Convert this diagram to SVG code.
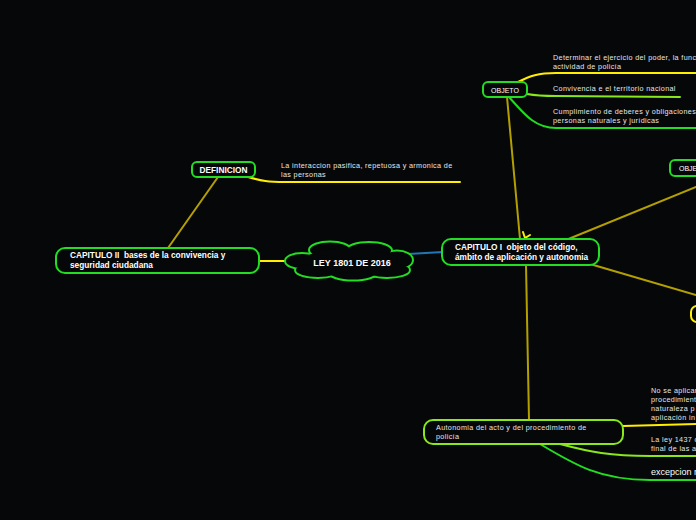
<svg xmlns="http://www.w3.org/2000/svg" width="696" height="520" viewBox="0 0 696 520">
<style>
.bg{fill:#060709}
.box{fill:#060709;stroke:#22dd22;stroke-width:2}
.lime{stroke:#88e81c}
.yel{stroke:#ffee00}
.t{font-family:"Liberation Sans",Arial,sans-serif;fill:#ffffff;white-space:pre}
.b{font-weight:bold;font-size:8.3px}
.s{font-size:7.2px;fill:#e6e6e6;letter-spacing:0.36px}
.c{fill:none;stroke-width:2;stroke-linecap:round}
.ol{stroke:#b3a000}
.gr{stroke:#22dd22}
</style>
<rect class="bg" x="0" y="0" width="696" height="520"/>
<g id="connectors">
  <line class="c ol" x1="218" y1="177" x2="168" y2="248"/>
  <line class="c yel" x1="259" y1="261" x2="290" y2="261"/>
  <line class="c" stroke="#1f78b4" x1="408" y1="254" x2="443" y2="252"/>
  <line class="c ol" x1="507" y1="97" x2="520" y2="239"/>
  <polyline class="c yel" stroke-width="1.6" points="523,232 525,238 530,235"/>
  <line class="c ol" x1="566" y1="240" x2="696" y2="187"/>
  <line class="c ol" x1="590" y1="264" x2="696" y2="295"/>
  <path class="c ol" d="M526,265 L529,420"/>
  <path class="c yel" d="M248,177 C262,181 268,182 285,182 L460,182"/>
  <path class="c yel" d="M518,82 C530,76 538,73 556,73 L696,73"/>
  <path class="c lime" d="M527,94 C538,96 545,96 556,96 L680,97"/>
  <path class="c gr" d="M509,97 C525,115 535,128 556,128 L696,128"/>
  <path class="c yel" d="M623,426 L696,424"/>
  <path class="c lime" d="M560,444 C590,452 610,456 650,456 L696,456"/>
  <path class="c gr" d="M540,444 C575,465 600,480 650,480 L696,480"/>
</g>
<g id="capitulo2">
  <rect class="box" x="56" y="248" width="203" height="25" rx="9"/>
  <text class="t b" x="70" y="258">CAPITULO II  bases de la convivencia y</text>
  <text class="t b" x="70" y="268">seguridad ciudadana</text>
</g>
<g id="definicion">
  <rect class="box" x="192" y="162" width="63" height="15" rx="5"/>
  <text class="t b" x="223.5" y="172.5" text-anchor="middle" font-size="7.5">DEFINICION</text>
</g>
<g id="definicion-text">
  <text class="t s" x="281" y="168">La interaccion pasifica, repetuosa y armonica de</text>
  <text class="t s" x="281" y="177">las personas</text>
</g>
<g id="ley">
  <g fill="none" stroke="#22dd22" stroke-width="4">
    <ellipse cx="330" cy="250" rx="20" ry="7.5"/>
    <ellipse cx="369" cy="250.5" rx="22" ry="7.5"/>
    <ellipse cx="302" cy="261" rx="16" ry="7"/>
    <ellipse cx="397" cy="260" rx="15" ry="8.5"/>
    <ellipse cx="318" cy="270" rx="22" ry="7"/>
    <ellipse cx="353" cy="272" rx="24" ry="7.5"/>
    <ellipse cx="387" cy="270" rx="22" ry="7"/>
  </g>
  <g fill="#060709">
    <ellipse cx="330" cy="250" rx="20" ry="7.5"/>
    <ellipse cx="369" cy="250.5" rx="22" ry="7.5"/>
    <ellipse cx="302" cy="261" rx="16" ry="7"/>
    <ellipse cx="397" cy="260" rx="15" ry="8.5"/>
    <ellipse cx="318" cy="270" rx="22" ry="7"/>
    <ellipse cx="353" cy="272" rx="24" ry="7.5"/>
    <ellipse cx="387" cy="270" rx="22" ry="7"/>
    <ellipse cx="350" cy="261" rx="48" ry="12"/>
  </g>
  <text class="t" x="352" y="265.5" text-anchor="middle" font-weight="bold" font-size="9">LEY 1801 DE 2016</text>
</g>
<g id="capitulo1">
  <rect class="box" x="442" y="239" width="157" height="26" rx="9"/>
  <text class="t b" x="455" y="250" font-size="7.6">CAPITULO I  objeto del código,</text>
  <text class="t b" x="455" y="260" font-size="7.6">ámbito de aplicación y autonomia</text>
</g>
<g id="objeto">
  <rect class="box" x="483" y="82" width="44" height="15" rx="5"/>
  <text class="t" x="505" y="92.5" text-anchor="middle" font-size="7">OBJETO</text>
</g>
<g id="objeto-items">
  <text class="t s" x="553" y="60">Determinar el ejercicio del poder, la funci</text>
  <text class="t s" x="553" y="69">actividad de policía</text>
  <text class="t s" x="553" y="91">Convivencia e el territorio nacional</text>
  <text class="t s" x="553" y="114">Cumplimiento de deberes y obligaciones</text>
  <text class="t s" x="553" y="123">personas naturales y jurídicas</text>
</g>
<g id="obje-right">
  <rect class="box" x="670" y="160" width="40" height="16" rx="5"/>
  <text class="t" x="679" y="171" font-size="7">OBJE</text>
</g>
<g id="yellow-right">
  <rect fill="#060709" stroke="#ffee00" stroke-width="2" x="691" y="306" width="30" height="16" rx="6"/>
</g>
<g id="autonomia">
  <rect fill="#060709" stroke="#88e81c" stroke-width="2" x="424" y="420" width="199" height="24" rx="9"/>
  <text class="t s" x="436" y="430">Autonomia del acto y del procedimiento de</text>
  <text class="t s" x="436" y="439">policía</text>
</g>
<g id="autonomia-items">
  <text class="t s" x="651" y="393">No se aplicar</text>
  <text class="t s" x="651" y="402">procedimient</text>
  <text class="t s" x="651" y="411">naturaleza p</text>
  <text class="t s" x="651" y="420">aplicación in</text>
  <text class="t s" x="651" y="442">La ley 1437 d</text>
  <text class="t s" x="651" y="451">final de las a</text>
  <text class="t" x="651" y="475" font-size="9" fill="#e6e6e6">excepcion n</text>
</g>
</svg>
